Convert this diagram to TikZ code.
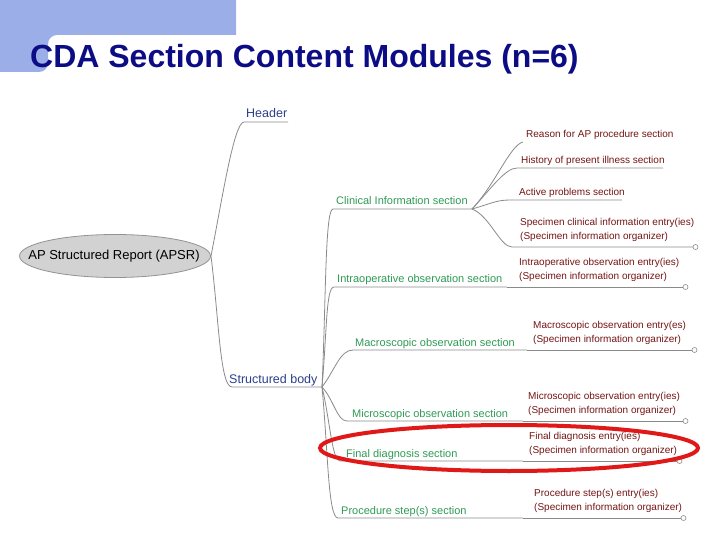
\documentclass[tikz,border=0pt]{standalone}
\usepackage{fontspec}
\setmainfont{Liberation Sans}
\usetikzlibrary{positioning}
\definecolor{hdrblue}{HTML}{9BAEE8}
\definecolor{ttlnavy}{HTML}{0C0C85}
\definecolor{lvlblue}{HTML}{2B3F8C}
\definecolor{secgreen}{HTML}{2E9A55}
\definecolor{entred}{HTML}{741414}
\definecolor{linegray}{HTML}{8A8A8A}
\definecolor{rootgray}{HTML}{D2D2D2}
\definecolor{markred}{HTML}{E01818}

\begin{document}
\begin{tikzpicture}[x=1pt,y=-1pt,
  link/.style={draw=linegray,line width=0.8pt},
  lvl/.style={anchor=base west,inner sep=0pt,text=lvlblue,font=\fontsize{12.5}{14}\selectfont},
  sec/.style={anchor=base west,inner sep=0pt,text=secgreen,font=\fontsize{11}{13}\selectfont},
  ent/.style={anchor=south west,inner sep=0pt,text=entred,align=left,font=\fontsize{10}{14}\selectfont},
  tip/.style={draw=linegray,fill=white,line width=0.6pt}]
\useasboundingbox (0,0) rectangle (720,540);
% slide header band and title
\fill[hdrblue] (0,0) -- (236,0) -- (236,35) {[rounded corners=9pt] -- (48,35) -- (48,72)} -- (0,72) -- cycle;
\node[anchor=base west,inner sep=0pt,text=ttlnavy,font=\fontsize{32}{36}\selectfont\bfseries] (ttl) at (30,68) {CDA Section Content Modules (n=6)};
% root
\draw[draw=gray!85,fill=rootgray,line width=0.8pt] (115,256) ellipse (95.5pt and 21.5pt);
\node[inner sep=0pt,font=\fontsize{13}{15}\selectfont] (apsr) at (114,256) {AP Structured Report (APSR)};
\coordinate (apsrE) at (211,256);
% first level
\node[lvl] (hdr) at (246,118) {Header};
\coordinate (hdrW) at (244,122); \coordinate (hdrE) at (288,122);
\node[lvl] (sb) at (229,383) {Structured body};
\coordinate (sbW) at (232,387); \coordinate (sbE) at (322,387);
\draw[link] (apsrE) .. controls (222,200) and (234,122) .. (hdrW) -- (hdrE);
\draw[link] (apsrE) .. controls (219,320) and (220,387) .. (sbW) -- (sbE);
% sections
\node[sec] (clin) at (336,205) {Clinical Information section};
\coordinate (clinW) at (333,209); \coordinate (clinE) at (472,209);
\node[sec] (intra) at (337,282) {Intraoperative observation section};
\coordinate (intraW) at (334,287); \coordinate (intraE) at (507,287);
\node[sec] (macro) at (355,346) {Macroscopic observation section};
\coordinate (macroW) at (353,350); \coordinate (macroE) at (527,350);
\node[sec] (micro) at (352,417) {Microscopic observation section};
\coordinate (microW) at (347,421); \coordinate (microE) at (523,421);
\node[sec] (final) at (346,457) {Final diagnosis section};
\coordinate (finalW) at (340,461); \coordinate (finalE) at (523,461);
\node[sec] (proc) at (341,514) {Procedure step(s) section};
\coordinate (procW) at (338,518); \coordinate (procE) at (523,518);
\draw[link] (sbE) .. controls (326,300) and (325,209) .. (clinW) -- (clinE);
\draw[link] (sbE) .. controls (327,330) and (326,287) .. (intraW) -- (intraE);
\draw[link] (sbE) .. controls (335,370) and (340,350) .. (macroW) -- (macroE);
\draw[link] (sbE) .. controls (334,400) and (337,421) .. (microW) -- (microE);
\draw[link] (sbE) .. controls (330,420) and (332,461) .. (finalW) -- (finalE);
\draw[link] (sbE) .. controls (328,450) and (328,518) .. (procW) -- (procE);
% clinical children
\node[ent,anchor=base west] (rsn) at (526,138) {Reason for AP procedure section};
\coordinate (rsnW) at (523,142);
\node[ent,anchor=base west] (hist) at (521,164) {History of present illness section};
\coordinate (histW) at (517,168); \coordinate (histE) at (663,168);
\node[ent,anchor=base west] (act) at (519,196) {Active problems section};
\coordinate (actW) at (510,200); \coordinate (actE) at (622,200);
\node[ent] (spc) at (520,242) {Specimen clinical information entry(ies)\\(Specimen information organizer)};
\coordinate (spcW) at (512,247); \coordinate (spcE) at (693,247);
\draw[link] (clinE) .. controls (495,185) and (510,145) .. (rsnW);
\draw[link] (clinE) .. controls (490,190) and (505,168) .. (histW) -- (histE);
\draw[link] (clinE) .. controls (490,204) and (496,200) .. (actW) -- (actE);
\draw[link] (clinE) .. controls (490,216) and (500,247) .. (spcW) -- (spcE);
% entry lines of the other sections
\node[ent] (intraent) at (519,282) {Intraoperative observation entry(ies)\\(Specimen information organizer)};
\coordinate (intraT) at (683,287);
\node[ent] (macroent) at (533,345) {Macroscopic observation entry(es)\\(Specimen information organizer)};
\coordinate (macroT) at (692,350);
\node[ent] (microent) at (528,416) {Microscopic observation entry(ies)\\(Specimen information organizer)};
\coordinate (microT) at (683,421);
\node[ent] (finalent) at (529,456) {Final diagnosis entry(ies)\\(Specimen information organizer)};
\coordinate (finalT) at (677,461);
\node[ent] (procent) at (534,513) {Procedure step(s) entry(ies)\\(Specimen information organizer)};
\coordinate (procT) at (681,518);
\draw[link] (intraE) -- (intraT);
\draw[link] (macroE) -- (macroT);
\draw[link] (microE) -- (microT);
\draw[link] (finalE) -- (finalT);
\draw[link] (procE) -- (procT);
\foreach \t in {spcE,intraT,macroT,microT,finalT,procT}
  {\draw[tip] (\t) ++(2.5,0) circle (2.5pt);}
% highlight
\draw[markred,line width=4pt] (509,448) ellipse (189pt and 23pt);
\end{tikzpicture}
\end{document}
